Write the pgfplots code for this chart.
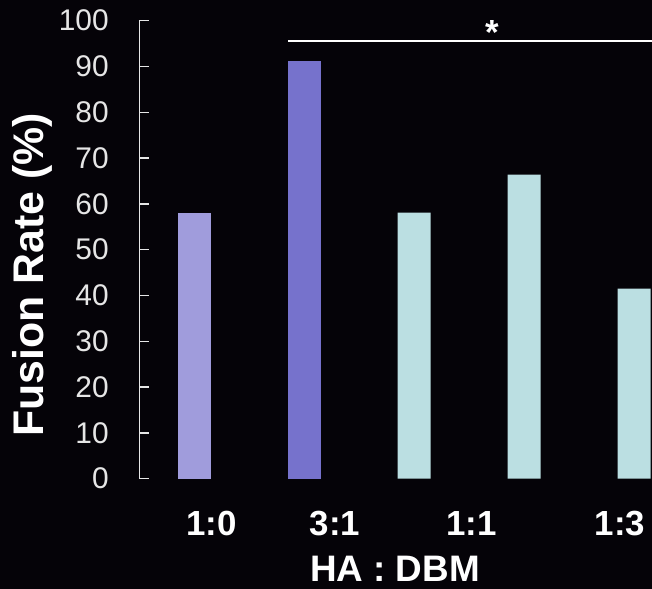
\documentclass[border=0pt]{standalone}
\usepackage{fontspec}
\setmainfont{Liberation Sans}
\usepackage{pgfplots}
\pgfplotsset{compat=1.18}
\definecolor{bgdark}{HTML}{050308}
\definecolor{barlav}{HTML}{A09CDC}
\definecolor{barind}{HTML}{7672CC}
\definecolor{barcyan}{HTML}{BBDFE2}
\definecolor{axisgray}{HTML}{E6E6E6}
\begin{document}
\begin{tikzpicture}
% dark slide background, also fixes the page size
\path[use as bounding box, fill=bgdark] (0,0) rectangle (652bp,589bp);
\begin{axis}[
  at={(139.3bp,110.3bp)}, anchor=south west,
  scale only axis, width=512.7bp, height=458bp,
  xmin=0.5027, xmax=5.1636, ymin=0, ymax=100,
  clip=false,
  axis line style={draw=none},
  axis y line=left, axis x line=bottom,
  xtick style={draw=none},
  ytick style={draw=none},
  ytick={0,10,...,100},
  xtick={1.161,2.282,3.525,4.873},
  xticklabels={1:0,3:1,1:1,1:3},
  /pgf/number format/assume math mode=true,
  yticklabel style={anchor=east, inner sep=0pt, xshift=-28.3bp,
    text=axisgray, font=\fontsize{30}{36}\selectfont},
  xticklabel style={anchor=base, inner sep=0pt, yshift=-54.6bp,
    text=white, font=\fontsize{35}{42}\selectfont\bfseries},
  xlabel={HA : DBM},
  xlabel style={at={(axis description cs:0.4987,0)}, anchor=base,
    yshift=-102.8bp, inner sep=0pt, text=white,
    font=\fontsize{37}{44}\selectfont\bfseries},
  ylabel={Fusion Rate (\%)},
  ylabel style={at={(axis description cs:-0.18725,0.4448)}, anchor=base,
    inner sep=0pt, text=white,
    font=\fontsize{43}{50}\selectfont\bfseries},
]
% value axis: bracket-shaped line with inward ticks
\draw[axisgray, line width=1.4bp, line join=miter]
  ([xshift=9.7bp]axis cs:0.5027,100) -- (axis cs:0.5027,100)
  -- (axis cs:0.5027,0) -- ([xshift=9.7bp]axis cs:0.5027,0);
\pgfplotsinvokeforeach{10,20,...,90}{
  \draw[axisgray, line width=1.4bp]
    (axis cs:0.5027,#1) -- ([xshift=9.7bp]axis cs:0.5027,#1);
}
\addplot[ybar, bar width=33bp, bar shift=0pt, fill=barlav, draw=none]
  coordinates {(1,58.1)};
\addplot[ybar, bar width=33bp, bar shift=0pt, fill=barind, draw=none]
  coordinates {(2,91.3)};
\addplot[ybar, bar width=33bp, bar shift=0pt, fill=barcyan, draw=none]
  coordinates {(3,58.1) (4,66.4) (5,41.5)};
% significance bracket
\addplot[white, line width=2bp, mark=none]
  coordinates {(1.8545,95.6) (5.1636,95.6)};
\node[anchor=north, inner sep=0pt, text=white,
  font=\fontsize{35}{42}\selectfont\bfseries] at (axis cs:3.709,100.15) {*};
\end{axis}
\end{tikzpicture}
\end{document}
